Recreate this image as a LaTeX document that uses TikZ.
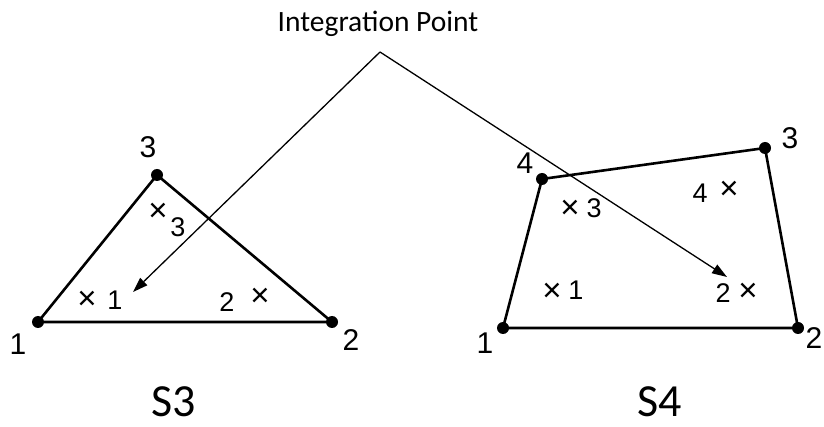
\documentclass[tikz,border=0pt]{standalone}
\usepackage{fontspec}
\setmainfont{Liberation Sans}
\newfontfamily\calfont{Carlito}
\usetikzlibrary{arrows.meta}
\tikzset{
  vtx/.style={circle,fill=black,inner sep=0pt,minimum size=12pt},
  edge/.style={line width=2.6pt,line join=round},
  num/.style={inner sep=0pt,font=\fontsize{30}{30}\selectfont},
  ipnum/.style={inner sep=0pt,font=\fontsize{27}{27}\selectfont},
  cross/.style={inner sep=0pt,font=\fontsize{33}{33}\selectfont},
  arr/.style={line width=1.3pt,-{Triangle[length=15pt,width=10pt]}},
  caption/.style={inner sep=0pt,anchor=base,text depth=0pt,font=\calfont\fontsize{46}{46}\selectfont},
  title/.style={inner sep=0pt,font=\calfont\fontsize{29.5}{29.5}\selectfont}
}
\begin{document}
\begin{tikzpicture}[x=1pt,y=-1pt]
\useasboundingbox (0,0) rectangle (824,427);
% S3 triangle
\node[vtx] (t1) at (38,322) {};
\node[vtx] (t2) at (332,322) {};
\node[vtx] (t3) at (157,175) {};
\draw[edge] (t1.center) -- (t2.center) -- (t3.center) -- cycle;
\node[num] (l1) at (18,344) {1};
\node[num] (l2) at (351,340) {2};
\node[num] (l3) at (148,147) {3};
\node[cross] (c1) at (87,300) {×};
\node[ipnum] (n1) at (115,300) {1};
\node[ipnum] (n2) at (227,302) {2};
\node[cross] (c2) at (260,297) {×};
\node[cross] (c3) at (158,212) {×};
\node[ipnum] (n3) at (178,227) {3};
% S4 quadrilateral
\node[vtx] (q1) at (503,328) {};
\node[vtx] (q2) at (798,328) {};
\node[vtx] (q3) at (765,148) {};
\node[vtx] (q4) at (542,179) {};
\draw[edge] (q1.center) -- (q2.center) -- (q3.center) -- (q4.center) -- cycle;
\node[num] (m1) at (485,343) {1};
\node[num] (m2) at (814,338) {2};
\node[num] (m3) at (790,138) {3};
\node[num] (m4) at (525,163) {4};
\node[cross] (d3) at (570,209) {×};
\node[ipnum] (p3) at (594,208) {3};
\node[ipnum] (p4) at (700,193) {4};
\node[cross] (d4) at (729,190) {×};
\node[cross] (d1) at (552,292) {×};
\node[ipnum] (p1) at (576,290) {1};
\node[ipnum] (p2) at (723,293) {2};
\node[cross] (d2) at (748,292) {×};
% Integration point callout
\node[title] (ip) at (378,24) {Integration Point};
\coordinate (apex) at (380,52);
\coordinate (tipA) at (133,292);
\coordinate (tipB) at (727,277);
\draw[arr] (apex) -- (tipA);
\draw[arr] (apex) -- (tipB);
% captions
\node[caption] (s3) at (174,416) {S3};
\node[caption] (s4) at (660,416) {S4};
\end{tikzpicture}
\end{document}
